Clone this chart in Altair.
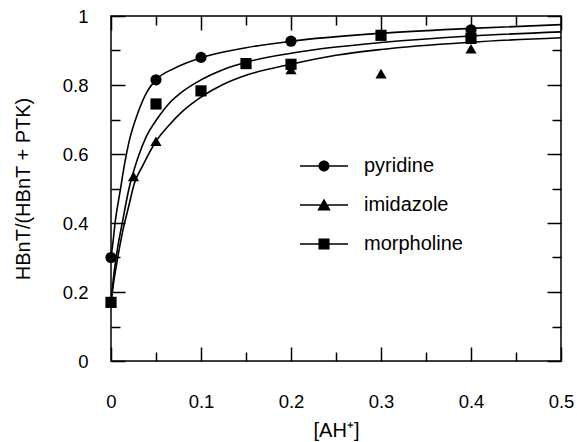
import altair as alt
import pandas as pd

compounds = ["pyridine", "imidazole", "morpholine"]

# Measured fractions HBnT/(HBnT + PTK) against [AH+]
pyr_x = [0, 0.05, 0.1, 0.2, 0.4]
pyr_y = [0.30, 0.815, 0.88, 0.927, 0.96]
imi_x = [0, 0.025, 0.05, 0.2, 0.3, 0.4]
imi_y = [0.17, 0.535, 0.637, 0.845, 0.833, 0.905]
mor_x = [0, 0.05, 0.1, 0.15, 0.2, 0.3, 0.4]
mor_y = [0.17, 0.745, 0.783, 0.862, 0.86, 0.944, 0.935]

# Fitted saturation curves
pyr_fit_x = [0, 0.002, 0.005, 0.01, 0.015, 0.02, 0.03, 0.04, 0.05, 0.07, 0.1, 0.15, 0.2, 0.3, 0.4, 0.5]
pyr_fit_y = [0.30, 0.34, 0.41, 0.49, 0.57, 0.635, 0.72, 0.78, 0.815, 0.848, 0.879, 0.908, 0.927, 0.950, 0.964, 0.975]
imi_fit_x = [0, 0.0025, 0.0075, 0.0125, 0.02, 0.026, 0.035, 0.05, 0.065, 0.08, 0.1, 0.125, 0.15, 0.2, 0.25, 0.3, 0.4, 0.5]
imi_fit_y = [0.17, 0.22, 0.30, 0.37, 0.452, 0.515, 0.565, 0.637, 0.685, 0.725, 0.765, 0.802, 0.828, 0.86, 0.886, 0.903, 0.924, 0.937]
mor_fit_x = [0, 0.0025, 0.0075, 0.0125, 0.02, 0.03, 0.04, 0.05, 0.065, 0.08, 0.1, 0.125, 0.15, 0.2, 0.25, 0.3, 0.4, 0.5]
mor_fit_y = [0.17, 0.236, 0.33, 0.40, 0.50, 0.59, 0.655, 0.697, 0.748, 0.782, 0.815, 0.845, 0.866, 0.892, 0.91, 0.923, 0.942, 0.954]

# Tick positions
x_major = [0, 0.1, 0.2, 0.3, 0.4, 0.5]
x_minor = [0.05, 0.15, 0.25, 0.35, 0.45]
y_major = [0, 0.2, 0.4, 0.6, 0.8, 1]
y_minor = [0.1, 0.3, 0.5, 0.7, 0.9]


def frame(xs, ys, name):
    return pd.DataFrame({"x": xs, "y": ys, "compound": name})


points = pd.concat([
    frame(pyr_x, pyr_y, "pyridine"),
    frame(imi_x, imi_y, "imidazole"),
    frame(mor_x, mor_y, "morpholine"),
])
curves = pd.concat([
    frame(pyr_fit_x, pyr_fit_y, "pyridine"),
    frame(imi_fit_x, imi_fit_y, "imidazole"),
    frame(mor_fit_x, mor_fit_y, "morpholine"),
])

FONT = "Liberation Sans"
xs = alt.Scale(domain=[0, 0.5], nice=False, zero=False)
ys = alt.Scale(domain=[0, 1], nice=False, zero=False)

common = dict(domain=False, grid=False, tickColor="black", tickWidth=1.5,
              labelFont=FONT, labelFontSize=18.5, labelColor="black",
              titleFont=FONT, titleFontSize=20, titleColor="black",
              titleFontWeight="normal")

# inward ticks: each axis is pulled into the plot by its own tick length
ax_bottom = alt.Axis(orient="bottom", values=x_major, format="~g", tickSize=14, offset=-14,
                     labelPadding=31, labelFlush=False, labelOverlap=False,
                     title="[AH⁺]", titlePadding=10, **common)
ax_bottom_minor = alt.Axis(orient="bottom", values=x_minor, tickSize=9, offset=-9,
                           labels=False, title=None, **common)
ax_top = alt.Axis(orient="top", values=x_major, tickSize=14, offset=-14,
                  labels=False, title=None, **common)
ax_top_minor = alt.Axis(orient="top", values=x_minor, tickSize=9, offset=-9,
                        labels=False, title=None, **common)
ax_left = alt.Axis(orient="left", values=y_major, format="~g", tickSize=14, offset=-14,
                   labelPadding=23, labelFlush=False, labelOverlap=False,
                   title="HBnT/(HBnT + PTK)", titlePadding=29, **common)
ax_left_minor = alt.Axis(orient="left", values=y_minor, tickSize=9, offset=-9,
                         labels=False, title=None, **common)
ax_right = alt.Axis(orient="right", values=y_major, tickSize=14, offset=-14,
                    labels=False, title=None, **common)
ax_right_minor = alt.Axis(orient="right", values=y_minor, tickSize=9, offset=-9,
                          labels=False, title=None, **common)

curve_layer = alt.Chart(curves).mark_line(
    color="black", strokeWidth=1.6, interpolate="monotone"
).encode(
    x=alt.X("x:Q", scale=xs, axis=ax_bottom),
    y=alt.Y("y:Q", scale=ys, axis=ax_left),
    detail="compound:N",
    order="x:Q",
)

point_layer = alt.Chart(points).mark_point(
    filled=True, color="black", opacity=1, size=125
).encode(
    x=alt.X("x:Q", scale=xs, axis=ax_bottom_minor),
    y=alt.Y("y:Q", scale=ys, axis=ax_left_minor),
    shape=alt.Shape("compound:N", scale=alt.Scale(domain=compounds,
                    range=["circle", "triangle-up", "square"]), legend=None),
)

# legend glyphs: a short line with the marker in its middle
line_l = "M-2,-0.06H-0.3V0.06H-2Z"
line_r = "M0.3,-0.06H2V0.06H0.3Z"
glyphs = [
    line_l + line_r + "M0.46,0A0.46,0.46 0 1,1 -0.46,0A0.46,0.46 0 1,1 0.46,0Z",
    line_l + line_r + "M0,-0.55L0.56,0.45L-0.56,0.45Z",
    line_l + line_r + "M-0.46,-0.46H0.46V0.46H-0.46Z",
]

legend_layer = alt.Chart(points).transform_filter("false").mark_point(
    filled=True, color="black", opacity=1, size=576
).encode(
    x=alt.X("x:Q", scale=xs, axis=ax_top),
    y=alt.Y("y:Q", scale=ys, axis=ax_right),
    shape=alt.Shape(
        "compound:N",
        scale=alt.Scale(domain=compounds, range=glyphs),
        legend=alt.Legend(
            orient="none", legendX=201, legendY=138, title=None, padding=0,
            symbolSize=576, symbolStrokeWidth=0, symbolFillColor="black",
            labelFont=FONT, labelFontSize=20, labelColor="black", labelOffset=28,
            rowPadding=17,
        ),
    ),
)

minor_layer = alt.Chart(points).transform_filter("false").mark_point().encode(
    x=alt.X("x:Q", scale=xs, axis=ax_top_minor),
    y=alt.Y("y:Q", scale=ys, axis=ax_right_minor),
)

chart = alt.layer(curve_layer, point_layer, legend_layer, minor_layer).resolve_axis(
    x="independent", y="independent"
).resolve_scale(
    shape="independent"
).properties(
    width=450, height=345,
    padding={"left": 111, "top": 16, "right": 16, "bottom": 81},
    autosize=alt.AutoSizeParams(type="none"),
    background="white",
).configure_view(
    stroke="black", strokeWidth=1.5
)

chart.save("out.html", embed_options={"renderer": "svg", "actions": False})
